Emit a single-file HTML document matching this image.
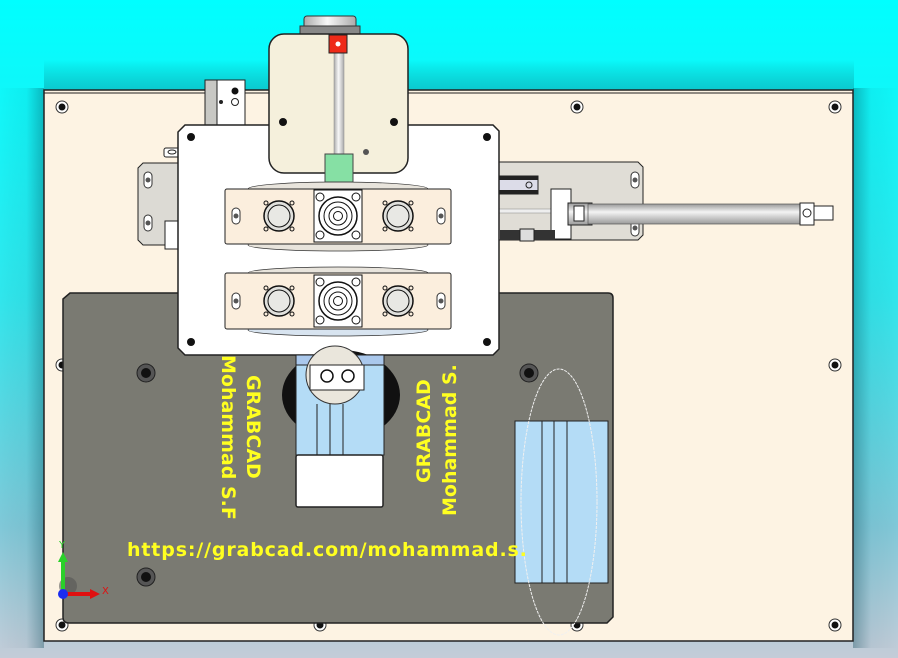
<!DOCTYPE html>
<html><head><meta charset="utf-8"><style>
html,body{margin:0;padding:0;width:898px;height:658px;overflow:hidden;background:#00f0f0}
svg{display:block}
text{font-family:"DejaVu Sans","Liberation Sans",sans-serif;font-weight:bold;fill:#ffff20}
</style></head><body>
<svg width="898" height="658" viewBox="0 0 898 658" xmlns="http://www.w3.org/2000/svg">
<defs>
<linearGradient id="bg" x1="0" y1="0" x2="0" y2="1">
<stop offset="0" stop-color="#00ffff"/><stop offset="0.45" stop-color="#30e6ec"/><stop offset="0.8" stop-color="#80c8d8"/><stop offset="1" stop-color="#c4ccd8"/></linearGradient>
<linearGradient id="edgeL" x1="0" y1="0" x2="1" y2="0"><stop offset="0" stop-color="#000" stop-opacity="0"/><stop offset="0.6" stop-color="#004050" stop-opacity="0.05"/><stop offset="1" stop-color="#004050" stop-opacity="0.35"/></linearGradient>
<linearGradient id="edgeR" x1="1" y1="0" x2="0" y2="0"><stop offset="0" stop-color="#000" stop-opacity="0"/><stop offset="0.6" stop-color="#004050" stop-opacity="0.05"/><stop offset="1" stop-color="#004050" stop-opacity="0.35"/></linearGradient>
<linearGradient id="edgeT" x1="0" y1="0" x2="0" y2="1"><stop offset="0" stop-color="#000" stop-opacity="0"/><stop offset="1" stop-color="#004050" stop-opacity="0.25"/></linearGradient>
<linearGradient id="rod" x1="0" y1="0" x2="0" y2="1"><stop offset="0" stop-color="#999"/><stop offset="0.4" stop-color="#f4f4f4"/><stop offset="1" stop-color="#9a9a9a"/></linearGradient>
<linearGradient id="rodv" x1="0" y1="0" x2="1" y2="0"><stop offset="0" stop-color="#aaa"/><stop offset="0.45" stop-color="#f8f8f8"/><stop offset="1" stop-color="#aaa"/></linearGradient>
<g id="hole"><circle r="6" fill="#fff" stroke="#333" stroke-width="1"/><circle r="3.5" fill="#111"/></g>
<g id="dhole"><circle r="9" fill="#555" stroke="#222"/><circle r="5" fill="#111"/></g>
<g id="port"><circle r="15" fill="#e0e0dc" stroke="#111" stroke-width="1.5"/><circle r="11" fill="#e8e8e4" stroke="#111" stroke-width="1"/><circle cx="-13" cy="-13" r="2" fill="none" stroke="#111"/><circle cx="13" cy="-13" r="2" fill="none" stroke="#111"/><circle cx="-13" cy="13" r="2" fill="none" stroke="#111"/><circle cx="13" cy="13" r="2" fill="none" stroke="#111"/></g>
<g id="valve"><rect x="-24" y="-26" width="48" height="52" fill="#fff" stroke="#111"/><circle r="19" fill="#fff" stroke="#111" stroke-width="1.5"/><circle r="14" fill="#fff" stroke="#111"/><circle r="9" fill="#fff" stroke="#111"/><circle r="4.5" fill="#fff" stroke="#111"/><circle cx="-18" cy="-19" r="4" fill="#fff" stroke="#111"/><circle cx="18" cy="-19" r="4" fill="#fff" stroke="#111"/><circle cx="-18" cy="19" r="4" fill="#fff" stroke="#111"/><circle cx="18" cy="19" r="4" fill="#fff" stroke="#111"/></g>
<g id="slot"><rect x="-4" y="-8" width="8" height="16" rx="4" fill="#fff" stroke="#333"/><circle r="2.5" fill="#555"/></g>
</defs>
<rect width="898" height="658" fill="url(#bg)"/>
<rect x="0" y="88" width="44" height="560" fill="url(#edgeL)"/>
<rect x="853" y="88" width="45" height="560" fill="url(#edgeR)"/>
<rect x="44" y="60" width="810" height="30" fill="url(#edgeT)"/>
<!-- base plate -->
<rect x="44" y="90" width="809" height="551" fill="#fdf3e3" stroke="#222" stroke-width="1.5"/>
<line x1="44" y1="93" x2="853" y2="93" stroke="#222" stroke-width="1"/>
<g>
<use href="#hole" x="62" y="107"/><use href="#hole" x="577" y="107"/><use href="#hole" x="835" y="107"/>
<use href="#hole" x="62" y="365"/><use href="#hole" x="835" y="365"/>
<use href="#hole" x="62" y="625"/><use href="#hole" x="320" y="625"/><use href="#hole" x="577" y="625"/><use href="#hole" x="835" y="625"/>
</g>
<!-- dark plate -->
<path d="M70 293 H608 Q613 293 613 298 V617 L607 623 H69 Q63 623 63 617 V299 Z" fill="#7a7a72" stroke="#222" stroke-width="1.5"/>
<use href="#dhole" x="146" y="373"/><use href="#dhole" x="146" y="577"/><use href="#dhole" x="529" y="373"/>
<!-- left brackets -->
<path d="M143 163 H180 V245 H143 L138 240 V168 Z" fill="#dcdad4" stroke="#222"/>
<use href="#slot" x="148" y="180"/><use href="#slot" x="148" y="223"/>
<rect x="164" y="148" width="30" height="9" rx="2" fill="#fff" stroke="#222"/><ellipse cx="172" cy="152" rx="4" ry="2" fill="none" stroke="#222"/><circle cx="187" cy="152" r="1.5" fill="#222"/>
<rect x="165" y="221" width="15" height="28" fill="#fff" stroke="#222"/>
<rect x="205" y="80" width="40" height="45" fill="#fff" stroke="#222"/><rect x="205" y="80" width="12" height="45" fill="#c8c8c4" stroke="#222"/>
<circle cx="235" cy="91" r="3.5" fill="#111"/><circle cx="235" cy="102" r="3.5" fill="none" stroke="#222"/><circle cx="221" cy="102" r="2" fill="#222"/>
<!-- right plate & cylinder -->
<path d="M498 162 H638 L643 167 V235 L638 240 H498 Z" fill="#e0ddd6" stroke="#222"/>
<use href="#slot" x="635" y="180"/><use href="#slot" x="635" y="228"/>
<rect x="498" y="176" width="40" height="18" fill="#dcdce8" stroke="#222"/><rect x="498" y="176" width="40" height="4" fill="#222"/><rect x="498" y="190" width="40" height="4" fill="#222"/><circle cx="529" cy="185" r="3" fill="none" stroke="#222"/>
<rect x="498" y="209" width="60" height="4" fill="#eee" stroke="#888" stroke-width=".5"/>
<rect x="551" y="189" width="20" height="50" fill="#fff" stroke="#222"/>
<rect x="568" y="203" width="24" height="22" fill="url(#rod)" stroke="#222"/>
<rect x="574" y="206" width="10" height="15" fill="#fff" stroke="#222"/>
<rect x="588" y="204" width="212" height="20" fill="url(#rod)" stroke="#555" stroke-width=".7"/>
<rect x="800" y="203" width="14" height="22" fill="#fff" stroke="#222"/><circle cx="807" cy="213" r="4" fill="none" stroke="#222"/>
<rect x="814" y="206" width="19" height="14" fill="#fff" stroke="#222"/>
<rect x="500" y="230" width="55" height="10" fill="#333"/><rect x="520" y="229" width="14" height="12" fill="#ddd" stroke="#222"/>
<!-- white plate -->
<path d="M185 125 H493 L499 131 V349 L493 355 H185 L178 348 V132 Z" fill="#fff" stroke="#222" stroke-width="1.5"/>
<circle cx="191" cy="137" r="4" fill="#111"/><circle cx="487" cy="137" r="4" fill="#111"/><circle cx="191" cy="342" r="4" fill="#111"/><circle cx="487" cy="342" r="4" fill="#111"/>
<!-- bars -->
<ellipse cx="338" cy="189" rx="90" ry="7" fill="#e8e4dc" stroke="#333" stroke-width=".7"/>
<ellipse cx="338" cy="245" rx="90" ry="6" fill="#e8e4dc" stroke="#333" stroke-width=".7"/>
<rect x="225" y="189" width="226" height="55" rx="2" fill="#fbeedd" stroke="#222"/>
<ellipse cx="338" cy="273" rx="90" ry="6" fill="#e8e4dc" stroke="#333" stroke-width=".7"/>
<ellipse cx="338" cy="330" rx="90" ry="6" fill="#d8e4f0" stroke="#333" stroke-width=".7"/>
<rect x="225" y="273" width="226" height="56" rx="2" fill="#fbeedd" stroke="#222"/>
<use href="#slot" x="236" y="216"/><use href="#slot" x="441" y="216"/>
<use href="#slot" x="236" y="301"/><use href="#slot" x="441" y="301"/>
<use href="#port" x="279" y="216"/><use href="#port" x="398" y="216"/>
<use href="#port" x="279" y="301"/><use href="#port" x="398" y="301"/>
<use href="#valve" x="338" y="216"/><use href="#valve" x="338" y="301"/>
<!-- tank -->
<rect x="304" y="16" width="52" height="20" rx="3" fill="url(#rodv)" stroke="#333"/>
<rect x="300" y="26" width="60" height="9" fill="#888" stroke="#333"/>
<rect x="269" y="34" width="139" height="139" rx="15" fill="#f5f0dc" stroke="#222" stroke-width="1.5"/>
<rect x="334" y="53" width="10" height="102" fill="url(#rodv)" stroke="#888" stroke-width=".5"/>
<rect x="329" y="35" width="18" height="18" fill="#ee2a18" stroke="#222"/><circle cx="338" cy="44" r="2.5" fill="#fff"/>
<circle cx="283" cy="122" r="4" fill="#111"/><circle cx="394" cy="122" r="4" fill="#111"/><circle cx="366" cy="152" r="3" fill="#555"/>
<rect x="325" y="154" width="28" height="28" fill="#86e0a4" stroke="#444"/>
<!-- mask center -->
<ellipse cx="341" cy="395" rx="59" ry="45" fill="#111"/>
<rect x="296" y="355" width="88" height="100" fill="#b4dcf6" stroke="#222"/>
<rect x="296" y="355" width="88" height="10" fill="#aac8ec" stroke="#222"/>
<circle cx="335" cy="375" r="29" fill="#eae6dc" stroke="#333"/>
<rect x="310" y="365" width="54" height="25" fill="#fff" stroke="#222"/>
<circle cx="327" cy="376" r="6" fill="#fff" stroke="#111" stroke-width="1.5"/><circle cx="348" cy="376" r="6" fill="#fff" stroke="#111" stroke-width="1.5"/>
<line x1="317" y1="404" x2="317" y2="455" stroke="#222"/><line x1="330" y1="404" x2="330" y2="455" stroke="#222"/><line x1="343" y1="404" x2="343" y2="455" stroke="#222"/>
<rect x="296" y="455" width="87" height="52" rx="2" fill="#fff" stroke="#222" stroke-width="1.5"/>
<!-- right mask -->
<rect x="515" y="421" width="93" height="162" fill="#b4dcf6" stroke="#222"/>
<line x1="542" y1="421" x2="542" y2="583" stroke="#222"/><line x1="554" y1="421" x2="554" y2="583" stroke="#222"/><line x1="567" y1="421" x2="567" y2="583" stroke="#222"/>
<ellipse cx="559" cy="502" rx="38" ry="133" fill="none" stroke="#f0f0f0" stroke-width="1" stroke-dasharray="3 1"/>
<!-- texts -->
<text transform="translate(222,355) rotate(90)" font-size="19">Mohammad S.F</text>
<text transform="translate(247,375) rotate(90)" font-size="19">GRABCAD</text>
<text transform="translate(430,483) rotate(-90)" font-size="19">GRABCAD</text>
<text transform="translate(456,516) rotate(-90)" font-size="19">Mohammad S.</text>
<text x="127" y="556" font-size="19" letter-spacing="0.85">https://grabcad.com/mohammad.s.</text>
<!-- axes -->
<circle cx="68" cy="586" r="9" fill="#555" opacity=".6"/>
<line x1="63" y1="594" x2="63" y2="560" stroke="#2ad02a" stroke-width="4"/><polygon points="58,562 68,562 63,552" fill="#2ad02a"/>
<line x1="63" y1="594" x2="92" y2="594" stroke="#e01010" stroke-width="4"/><polygon points="90,589 90,599 100,594" fill="#e01010"/>
<circle cx="63" cy="594" r="5" fill="#1a2cf0"/>
<text x="102" y="594" font-size="10" style="fill:#e01010;font-weight:normal">X</text>
<text x="59" y="548" font-size="10" style="fill:#2ad02a;font-weight:normal">Y</text>
</svg>
</body></html>
